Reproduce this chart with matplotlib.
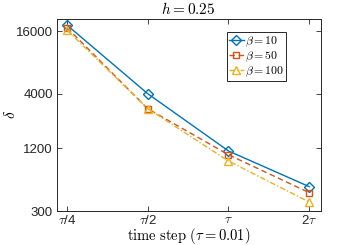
import matplotlib
matplotlib.use("Agg")
import matplotlib.pyplot as plt
from matplotlib.ticker import NullLocator, FixedLocator, FixedFormatter

plt.rcParams['mathtext.fontset'] = 'cm'
plt.rcParams['font.family'] = ['Liberation Sans', 'DejaVu Sans']

x_labels = [r'$\tau$/4', r'$\tau$/2', r'$\tau$', r'2$\tau$']
x_pos = [1, 2, 3, 4]
beta10 = [18200, 4000, 1130, 514]
beta50 = [17200, 2870, 1040, 450]
beta100 = [16300, 2880, 905, 366]
y_ticks = [300, 1200, 4000, 16000]

fig = plt.figure(figsize=(3.54, 2.45), dpi=100)
ax_h = 211 - 18.7
ax = fig.add_axes([57/354, 1 - 211/245, (320.5 - 57)/354, ax_h/245])

ax.plot(x_pos, beta10, color='#0072BD', ls='-', lw=1.0, marker='D', ms=5,
        mfc='none', mew=1.0, label=r'$\beta = 10$')
ax.plot(x_pos, beta50, color='#D95319', ls=(0, (4, 2.5)), lw=1.0, marker='s', ms=5,
        mfc='none', mew=1.0, label=r'$\beta = 50$')
ax.plot(x_pos, beta100, color='#EDB120', ls=(0, (4, 1.5, 1, 1.5)), lw=1.0, marker='^', ms=6,
        mfc='none', mew=1.0, label=r'$\beta = 100$')

ax.set_yscale('log')
ax.set_ylim(300, 21000)
ax.set_xlim(0.875, 4.14)
ax.yaxis.set_major_locator(FixedLocator(y_ticks))
ax.yaxis.set_major_formatter(FixedFormatter([str(v) for v in y_ticks]))
ax.yaxis.set_minor_locator(NullLocator())
ax.set_xticks(x_pos)
ax.set_xticklabels(x_labels)

ax.tick_params(direction='in', top=True, right=True, length=3.5, width=0.6,
               labelsize=9.5, colors='#262626', pad=3)
ax.tick_params(axis='x', pad=2.0, labelsize=9.5)
for s in ax.spines.values():
    s.set_color('#262626')
    s.set_linewidth(0.7)

fig.text(188/354, 1 - 8.5/245, r'$h = 0.25$', fontsize=11, ha='center', va='center')
ax.set_xlabel(r'$\mathrm{time\ step\ }(\tau = 0.01)$', fontsize=10.5, va='center')
ax.xaxis.set_label_coords(0.5, -(236 - 211)/ax_h)
ax.set_ylabel(r'$\delta$', fontsize=11, va='center', rotation=90)
ax.yaxis.set_label_coords(-(57 - 11)/263.5, 0.5)

leg = ax.legend(loc='upper left', bbox_to_anchor=((227 - 57)/263.5, 1 - (32.5 - 18.7)/ax_h),
                fontsize=8.5, handlelength=1.2, handletextpad=0.1, borderpad=0.2,
                labelspacing=0.05, fancybox=False, framealpha=1, edgecolor='#262626',
                borderaxespad=0)
leg.get_frame().set_linewidth(0.7)

fig.savefig('out.png', dpi=100)
